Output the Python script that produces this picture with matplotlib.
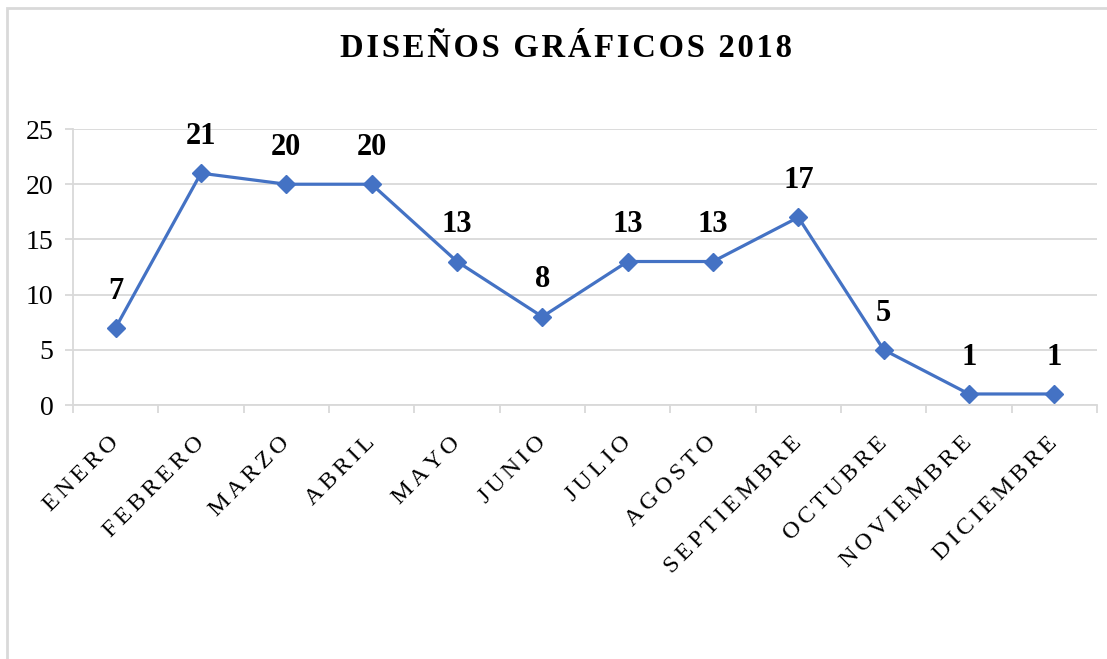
import matplotlib.pyplot as plt
from matplotlib.patches import Rectangle

meses = ["ENERO", "FEBRERO", "MARZO", "ABRIL", "MAYO", "JUNIO", "JULIO",
         "AGOSTO", "SEPTIEMBRE", "OCTUBRE", "NOVIEMBRE", "DICIEMBRE"]
disenos = [7, 21, 20, 20, 13, 8, 13, 13, 17, 5, 1, 1]
yticks = [0, 5, 10, 15, 20, 25]
titulo = "DISEÑOS GRÁFICOS 2018"

plt.rcParams['font.family'] = ['Liberation Serif', 'DejaVu Serif']
GRIS = "#d9d9d9"
AZUL = "#4472c4"


def espaciar(s, sep):
    # letter spacing like the Excel chart
    return sep.join(s)


fig = plt.figure(figsize=(11.07, 6.59), dpi=100)
ax = fig.add_axes([0.0659, 0.3854, 0.9251, 0.4188])

x = range(len(meses))
ax.plot(x, disenos, color=AZUL, lw=2.3, marker='D', ms=9, zorder=3)
for i, v in enumerate(disenos):
    ax.annotate(str(v), (i, v), xytext=(0, 16), textcoords='offset points',
                ha='center', va='bottom', fontsize=22, fontweight='bold')

ax.set_xlim(-0.5, len(meses) - 0.5)
ax.set_ylim(0, 25)
ax.set_yticks(yticks)
ax.set_yticklabels([str(t) for t in yticks], fontsize=20)
ax.yaxis.grid(True, color=GRIS, lw=1.3)
ax.set_axisbelow(True)

ax.set_xticks(x)
ax.set_xticklabels([espaciar(m, '\u200a\u200a') for m in meses], rotation=45,
                   ha='right', va='center', rotation_mode='anchor', fontsize=17.5)
ax.tick_params(axis='x', length=0, pad=25)
ax.set_xticks([i - 0.5 for i in range(len(meses) + 1)], minor=True)
ax.tick_params(axis='x', which='minor', length=6, color=GRIS, width=1.3)
ax.tick_params(axis='y', length=6, color=GRIS, width=1.3, pad=8)

for s in ['top', 'right']:
    ax.spines[s].set_visible(False)
for s in ['left', 'bottom']:
    ax.spines[s].set_color(GRIS)
    ax.spines[s].set_linewidth(1.3)

fig.text(0.511, 0.927, espaciar(titulo, '\u200a'), ha='center', va='center',
         fontsize=23.5, fontweight='bold')

fig.patches.append(Rectangle((7 / 1107, -0.05), 1.2, 1 - 8 / 659 + 0.05,
                             transform=fig.transFigure, fill=False,
                             edgecolor=GRIS, lw=2))

fig.savefig("out.png", dpi=100)
